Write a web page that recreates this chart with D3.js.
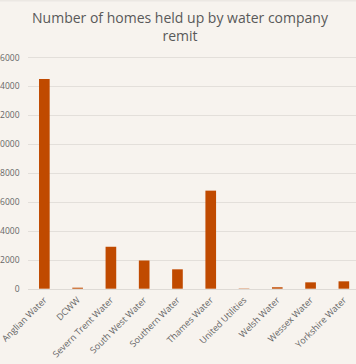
<!DOCTYPE html>
<html><head><meta charset="utf-8">
<script src="https://cdn.jsdelivr.net/npm/d3@7"></script>
<style>
html,body{margin:0;padding:0;background:#F7F3EE;overflow:hidden;}
svg{display:block;}
</style></head>
<body>
<script>
const categories = ["Anglian Water","DCWW","Severn Trent Water","South West Water","Southern Water","Thames Water","United Utilities","Welsh Water","Wessex Water","Yorkshire Water"];
const values = [14500, 70, 2900, 1950, 1340, 6780, 20, 100, 440, 510];
const yTicks = [0,2000,4000,6000,8000,10000,12000,14000,16000];
const titleLines = ["Number of homes held up by water company","remit"];

const W = 356, H = 364;
const svg = d3.select("body").append("svg").attr("width", W).attr("height", H);
svg.append("rect").attr("width", W).attr("height", H).attr("fill", "#F7F3EE");
svg.append("rect").attr("width", W).attr("height", 1.5).attr("fill", "#ECE8E3");

const x = d3.scaleBand().domain(categories).range([27.7, 360.5]).paddingInner(0.68).paddingOuter(0.34);
const y = d3.scaleLinear().domain([0,16000]).range([288.7, 57.3]);

// gridlines
svg.append("g").selectAll("line").data(yTicks).join("line")
  .attr("x1", 28).attr("x2", W)
  .attr("y1", d => Math.round(y(d)) + 0.5).attr("y2", d => Math.round(y(d)) + 0.5)
  .attr("stroke", d => d === 0 ? "#DEDAD5" : "#E3DFDA").attr("stroke-width", 1);

// y axis
const yAxis = d3.axisLeft(y).tickValues(yTicks).tickSize(0).tickPadding(0).tickFormat(d3.format("d"));
const gy = svg.append("g").attr("transform", "translate(19.5,0)").call(yAxis);
gy.select(".domain").remove();
gy.selectAll("text").attr("fill", "#666").attr("font-size", "8.5px").attr("font-family", "Open Sans, sans-serif");

// bars
svg.append("g").selectAll("rect").data(values).join("rect")
  .attr("x", (d,i) => x(categories[i]))
  .attr("width", x.bandwidth())
  .attr("y", d => y(d))
  .attr("height", d => y(0) - y(d))
  .attr("fill", "#C04A00");

// x axis
const xAxis = d3.axisBottom(x).tickSize(0).tickPadding(0);
const gx = svg.append("g").attr("transform", "translate(0,288.7)").call(xAxis);
gx.select(".domain").remove();
gx.selectAll("text")
  .attr("fill", "#666").attr("font-size", "9px").attr("font-family", "Open Sans, sans-serif")
  .attr("text-anchor", "end").attr("dy", null).attr("y", 0)
  .attr("transform", "translate(3,12) rotate(-45)");

// title
svg.append("g").selectAll("text").data(titleLines).join("text")
  .attr("x", 180).attr("y", (d,i) => 22.5 + i*18)
  .attr("text-anchor", "middle")
  .attr("fill", "#595959").attr("font-size", "14px").attr("font-family", "Open Sans, sans-serif")
  .text(d => d);
</script>
</body></html>
